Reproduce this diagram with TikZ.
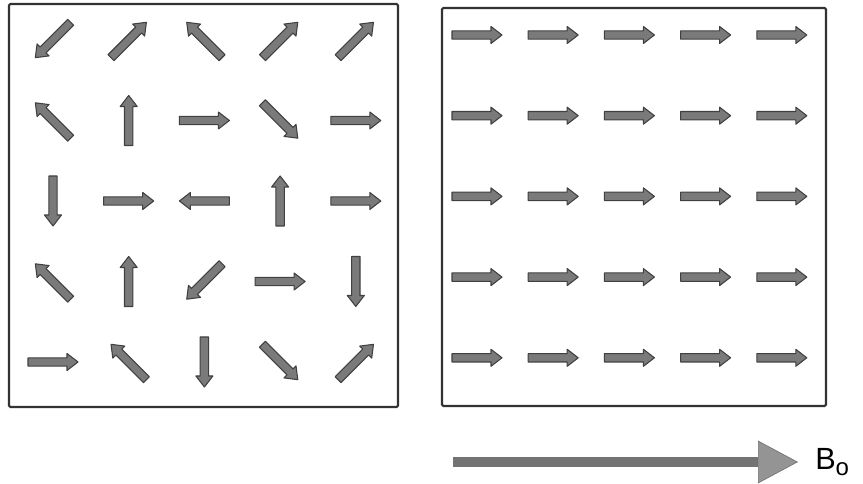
\documentclass[tikz,border=0pt]{standalone}
\usepackage{fontspec}
\setmainfont{Liberation Sans}
\usetikzlibrary{arrows.meta}

\begin{document}
\begin{tikzpicture}[
  x=0.75pt, y=0.75pt,
  frame/.style={draw=black!80, line width=1.6pt, rounded corners=1pt},
  spinline/.style={draw=black!75, fill=black!52, line width=0.8pt, line join=round},
  spin/.pic={\path[spinline] (-25,-4.2) -- (14,-4.2) -- (14,-8.5) -- (25,0)
     -- (14,8.5) -- (14,4.2) -- (-25,4.2) -- cycle;},
  field/.style={draw=black!55, line width=7pt,
     -{Triangle[length=30pt, width=32pt, fill=black!42, line width=0.5pt]}},
  every node/.style={font=\fontsize{23}{26}\selectfont}
]
  \useasboundingbox (0,0) rectangle (863,484);

  \draw[frame] (9,77) rectangle (398,480);
  \draw[frame] (442,78) rectangle (826,476);

  \foreach \r/\list in {0/{225,45,135,45,45}, 1/{135,90,0,-45,0},
      2/{-90,0,180,90,0}, 3/{135,90,225,0,-90}, 4/{0,135,-90,-45,45}} {
    \foreach \a [count=\c from 0] in \list
      \pic[rotate=\a] at (53+75.7*\c, 444-80.5*\r) {spin};
  }

  \foreach \r in {0,...,4}
    \foreach \c in {0,...,4}
      \pic at (477+76.2*\c, 449-80.7*\r) {spin};

  \coordinate (fieldstart) at (453,22);
  \coordinate (fieldend) at (798,22);
  \draw[field] (fieldstart) -- (fieldend);
  \node[anchor=west, inner sep=0pt] (Bo) at (815,22)
    {B\raisebox{-5pt}{\fontsize{18}{20}\selectfont o}};
\end{tikzpicture}
\end{document}
